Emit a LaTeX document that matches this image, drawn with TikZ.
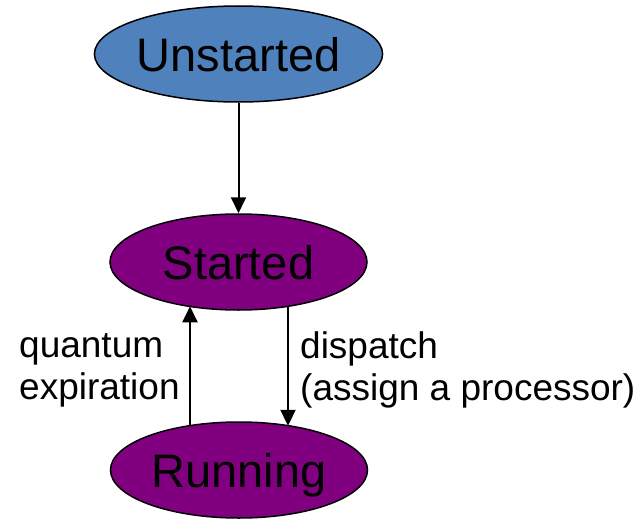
\documentclass[tikz,border=0pt]{standalone}
\usepackage{fontspec}
\setmainfont{Liberation Sans}
\usetikzlibrary{shapes.geometric,arrows.meta,calc}
\definecolor{stateblue}{HTML}{4F81BD}
\definecolor{statepurple}{HTML}{800080}
\tikzset{
  state/.style={ellipse, draw=black, line width=1.5pt, minimum width=257pt,
    minimum height=96pt, inner sep=0pt, text height=34.5pt, text depth=0pt,
    font=\fontsize{47}{56}\selectfont},
  trans/.style={line width=2pt, -{Triangle[width=15pt,length=16pt]}},
  lbl/.style={align=left, anchor=west, inner sep=0pt,
    font=\fontsize{37}{42}\selectfont}
}
\begin{document}
\begin{tikzpicture}[x=1pt, y=-1pt]
  \useasboundingbox (0,0) rectangle (640,519);
  \node[state, fill=stateblue]   (U) at (238.5,54)  {Unstarted};
  \node[state, fill=statepurple] (S) at (238.5,262) {Started};
  \node[state, fill=statepurple] (R) at (239,470)   {Running};
  % transitions
  \draw[trans] (U.south) -- (S.north);
  \draw[trans] ($(R.center)+(-49,-44.3)$) -- ($(S.center)+(-48.5,44.3)$);
  \draw[trans] ($(S.center)+(49.5,44.2)$) -- ($(R.center)+(49,-44.2)$);
  % transition labels
  \node[lbl] (q) at (19,370)  {quantum\\expiration};
  \node[lbl] (d) at (300,370) {dispatch\\(assign a processor)};
\end{tikzpicture}
\end{document}
